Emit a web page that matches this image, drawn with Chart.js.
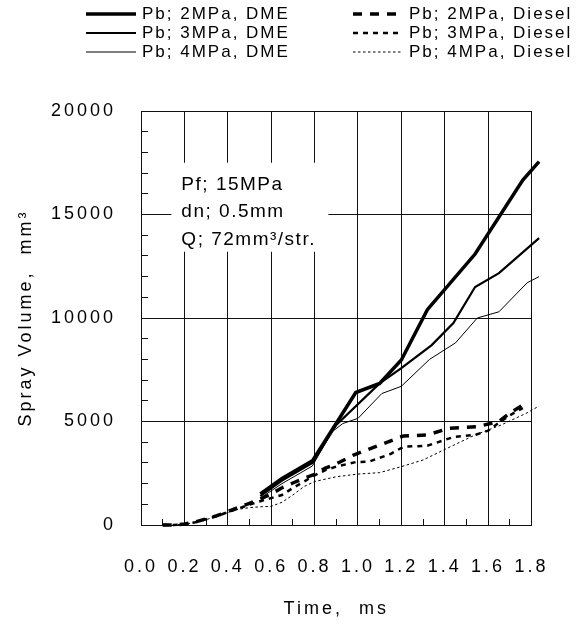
<!DOCTYPE html>
<html>
<head>
<meta charset="utf-8">
<script src="https://cdn.jsdelivr.net/npm/chart.js@4.4.1/dist/chart.umd.min.js"></script>
<style>
  body { margin: 0; background: #fff; }
  #wrap { width: 581px; height: 626px; }
</style>
</head>
<body>
<div id="wrap"><canvas id="myChart"></canvas></div>
<script>
// valores: tiempo (ms) y volumen (mm3)
var tDme2 = [0.55, 0.65, 0.79, 0.99, 1.10, 1.20, 1.32, 1.54, 1.76, 1.835];
var vDme2 = [1500, 2250, 3100, 6400, 6840, 7970, 10400, 13090, 16660, 17550];

var tDme3 = [0.55, 0.65, 0.79, 0.90, 1.10, 1.20, 1.34, 1.44, 1.54, 1.65, 1.835];
var vDme3 = [1400, 2150, 3000, 4830, 6840, 7580, 8690, 9760, 11500, 12170, 13860];

var tDme4 = [0.55, 0.65, 0.79, 0.88, 0.93, 1.00, 1.11, 1.20, 1.33, 1.45, 1.55, 1.65, 1.78, 1.835];
var vDme4 = [1300, 2000, 2850, 4500, 4900, 5150, 6350, 6700, 8000, 8800, 10000, 10300, 11700, 12000];

var tDie2 = [0.10, 0.15, 0.20, 0.25, 0.30, 0.35, 0.40, 0.45, 0.50, 0.55, 0.60, 0.65, 0.70, 0.75, 0.80, 0.85, 0.90, 0.98, 1.10, 1.21, 1.32, 1.42, 1.55, 1.65, 1.70, 1.76];
var vDie2 = [0, 0, 50, 150, 300, 450, 650, 850, 1050, 1250, 1500, 1800, 2030, 2250, 2450, 2750, 2950, 3380, 3860, 4300, 4350, 4670, 4750, 5000, 5400, 5800];

var tDie3 = [0.10, 0.15, 0.20, 0.25, 0.30, 0.35, 0.40, 0.45, 0.50, 0.55, 0.60, 0.65, 0.70, 0.75, 0.80, 0.85, 0.90, 0.99, 1.05, 1.15, 1.21, 1.32, 1.44, 1.54, 1.60, 1.65, 1.70, 1.76];
var vDie3 = [0, 0, 40, 130, 280, 430, 620, 800, 980, 1150, 1300, 1450, 1790, 2090, 2400, 2650, 2820, 3040, 3060, 3430, 3780, 3830, 4250, 4350, 4560, 4940, 5300, 5650];

var tDie4 = [0.10, 0.15, 0.20, 0.25, 0.30, 0.35, 0.40, 0.45, 0.50, 0.55, 0.60, 0.65, 0.70, 0.75, 0.80, 0.90, 1.00, 1.10, 1.20, 1.30, 1.41, 1.54, 1.66, 1.78, 1.835];
var vDie4 = [0, 0, 40, 120, 260, 420, 600, 760, 840, 880, 900, 1100, 1450, 1850, 2100, 2330, 2460, 2530, 2820, 3140, 3700, 4350, 4830, 5420, 5750];

var nombres = ["Pb; 2MPa, DME", "Pb; 3MPa, DME", "Pb; 4MPa, DME",
               "Pb; 2MPa, Diesel", "Pb; 3MPa, Diesel", "Pb; 4MPa, Diesel"];
var yTickLabels = [0, 5000, 10000, 15000, 20000];
var xTickLabels = ["0.0", "0.2", "0.4", "0.6", "0.8", "1.0", "1.2", "1.4", "1.6", "1.8"];
var notas = ["Pf; 15MPa", "dn; 0.5mm", "Q; 72mm\u00b3/str."];

var FUENTE = "'Liberation Sans', Arial, sans-serif";

function puntos(t, v) {
    return t.map(function(x, i) { return {x: x, y: v[i]}; });
}

function serie(label, t, v, ancho, guion) {
    return {
        label: label,
        data: puntos(t, v),
        borderColor: "#000",
        backgroundColor: "#000",
        borderWidth: ancho,
        borderDash: guion,
        borderCapStyle: "butt",
        pointRadius: 0,
        fill: false,
        tension: 0,
        clip: false
    };
}

// leyenda en dos columnas (DME a la izquierda, Diesel a la derecha)
var leyenda = {
    id: "leyenda",
    afterDraw: function(chart) {
        var ctx = chart.ctx;
        var colX = [86, 353];
        var filaY = [14, 33, 52];
        ctx.save();
        ctx.font = "17px " + FUENTE;
        ctx.letterSpacing = "2px";
        ctx.textBaseline = "middle";
        ctx.fillStyle = "#000";
        chart.data.datasets.forEach(function(ds, i) {
            var x = colX[Math.floor(i / 3)];
            var y = filaY[i % 3];
            ctx.strokeStyle = "#000";
            ctx.lineWidth = ds.borderWidth;
            ctx.setLineDash(ds.borderDash);
            ctx.beginPath();
            ctx.moveTo(x, y);
            ctx.lineTo(x + 50, y);
            ctx.stroke();
            ctx.setLineDash([]);
            ctx.fillText(ds.label, x + 56, y);
        });
        ctx.restore();
    }
};

// cuadro de condiciones
var cuadro = {
    id: "cuadro",
    beforeDatasetsDraw: function(chart) {
        var ctx = chart.ctx;
        var x = chart.scales.x.getPixelForValue(0.14);
        var y = chart.scales.y.getPixelForValue(17500);
        ctx.save();
        ctx.fillStyle = "#fff";
        ctx.fillRect(x, y, 157, 89);
        ctx.fillStyle = "#000";
        ctx.font = "19px " + FUENTE;
        ctx.letterSpacing = "1.5px";
        ctx.textBaseline = "alphabetic";
        notas.forEach(function(s, i) {
            ctx.fillText(s, x + 10, y + 27 + 27.5 * i);
        });
        ctx.restore();
    }
};

var espaciado = {
    id: "espaciado",
    beforeDraw: function(chart) {
        chart.ctx.letterSpacing = "3px";
    }
};

var ctx = document.getElementById("myChart");
var myChart = new Chart(ctx, {
    type: "line",
    data: {
        datasets: [
            serie(nombres[0], tDme2, vDme2, 3.5, []),
            serie(nombres[1], tDme3, vDme3, 2.2, []),
            serie(nombres[2], tDme4, vDme4, 1, []),
            serie(nombres[3], tDie2, vDie2, 3.5, [9, 8]),
            serie(nombres[4], tDie3, vDie3, 2.5, [5, 5]),
            serie(nombres[5], tDie4, vDie4, 1, [2.5, 2.5])
        ]
    },
    options: {
        responsive: true,
        maintainAspectRatio: false,
        animation: false,
        layout: { padding: { top: 111, right: 37, left: 0, bottom: 0 } },
        plugins: {
            legend: { display: false },
            tooltip: { enabled: false }
        },
        scales: {
            x: {
                type: "linear",
                min: 0,
                max: 1.8,
                afterFit: function(s) { s.height = 101; },
                ticks: {
                    stepSize: 0.1,
                    autoSkip: false,
                    maxRotation: 0,
                    padding: 37,
                    color: "#000",
                    font: { family: FUENTE, size: 18 },
                    callback: function(v) {
                        var k = Math.round(v * 10);
                        return k % 2 === 0 ? xTickLabels[k / 2] : "";
                    }
                },
                grid: {
                    color: function(c) {
                        return Math.round(c.tick.value * 10) % 2 === 0 ? "#111" : "rgba(0,0,0,0)";
                    },
                    tickColor: "#111",
                    tickLength: -6,
                    lineWidth: 1
                },
                border: { color: "#111", width: 1 },
                title: {
                    display: true,
                    text: "Time,  ms",
                    color: "#000",
                    font: { family: FUENTE, size: 18 },
                    padding: { top: 0, bottom: 6 }
                }
            },
            y: {
                min: 0,
                max: 20000,
                afterFit: function(s) { s.width = 141; },
                ticks: {
                    stepSize: 1000,
                    autoSkip: false,
                    padding: 32,
                    color: "#000",
                    font: { family: FUENTE, size: 18 },
                    callback: function(v) {
                        return yTickLabels.indexOf(v) >= 0 ? String(v) : "";
                    }
                },
                grid: {
                    color: function(c) {
                        return c.tick.value % 5000 === 0 ? "#111" : "rgba(0,0,0,0)";
                    },
                    tickColor: "#111",
                    tickLength: -7,
                    lineWidth: 1
                },
                border: { color: "#111", width: 1 },
                title: {
                    display: true,
                    text: "Spray Volume,  mm\u00b3",
                    color: "#000",
                    font: { family: FUENTE, size: 18 },
                    padding: { top: 15, bottom: 0 }
                }
            }
        }
    },
    plugins: [espaciado, cuadro, leyenda]
});
</script>
</body>
</html>
